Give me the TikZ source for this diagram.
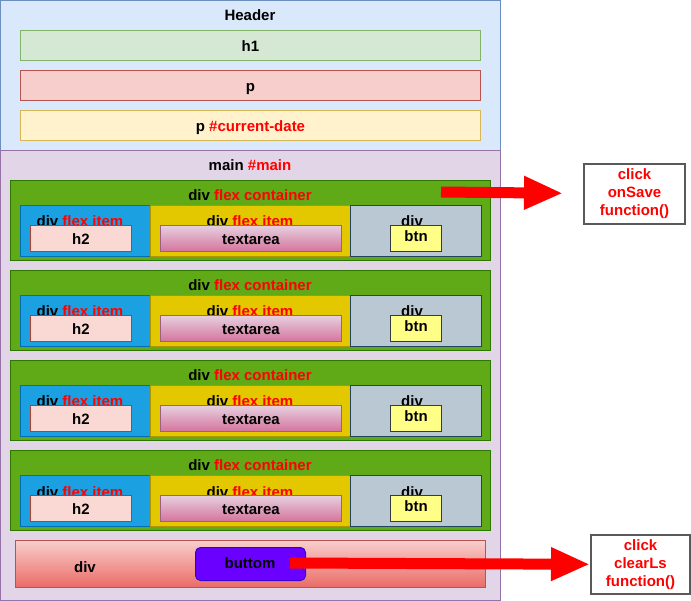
\documentclass[tikz,border=0pt]{standalone}
\usepackage{fontspec}
\setmainfont{Liberation Sans}
\usetikzlibrary{positioning,arrows.meta}
\definecolor{hdrfill}{HTML}{DAE8FC}\definecolor{hdrline}{HTML}{6C8EBF}
\definecolor{grnfill}{HTML}{D5E8D4}\definecolor{grnline}{HTML}{82B366}
\definecolor{pinkfill}{HTML}{F8CECC}\definecolor{pinkline}{HTML}{B85450}
\definecolor{yelfill}{HTML}{FFF2CC}\definecolor{yelline}{HTML}{D6B656}
\definecolor{mainfill}{HTML}{E1D5E7}\definecolor{mainline}{HTML}{9673A6}
\definecolor{flexfill}{HTML}{60A917}\definecolor{flexline}{HTML}{2D7600}
\definecolor{bluefill}{HTML}{1BA1E2}\definecolor{blueline}{HTML}{006EAF}
\definecolor{goldfill}{HTML}{E3C800}\definecolor{goldline}{HTML}{B09500}
\definecolor{grayfill}{HTML}{BAC8D3}\definecolor{grayline}{HTML}{23445D}
\definecolor{hfill}{HTML}{FAD9D5}\definecolor{hline}{HTML}{AE4132}
\definecolor{tatop}{HTML}{E6D0DE}\definecolor{tabot}{HTML}{D5739D}\definecolor{taline}{HTML}{996185}
\definecolor{btnfill}{HTML}{FFFF88}\definecolor{btnline}{HTML}{36393D}
\definecolor{divbot}{HTML}{EA6B66}
\definecolor{violet}{HTML}{6A00FF}\definecolor{violetline}{HTML}{3700CC}
\newcommand\redtxt[1]{\textcolor{red}{#1}}
\begin{document}
\begin{tikzpicture}[x=1pt,y=-1pt,
    every node/.style={font=\fontsize{15}{18}\selectfont\bfseries,text height=15pt,text depth=3pt},
    box/.style={draw,line width=1pt,inner sep=0pt,anchor=north west},
    clickbox/.style={box,draw=black!65,line width=2pt,fill=white,text=red,align=center,text height={},text depth={}},
    bigarrow/.style={draw=red,line width=11pt,-{Triangle[length=39pt,width=31pt]}}]
    \useasboundingbox (0,0) rectangle (691,601);
    % header
    \node[box,fill=hdrfill,draw=hdrline,minimum width=500,minimum height=150] (header) at (0,0) {};
    \node (hdrlbl) at (250,15) {Header};
    \node[box,fill=grnfill,draw=grnline,minimum width=460,minimum height=30] (hone) at (20,30) {h1};
    \node[box,fill=pinkfill,draw=pinkline,minimum width=460,minimum height=30] (ptag) at (20,70) {p};
    \node[box,fill=yelfill,draw=yelline,minimum width=460,minimum height=30] (pdate) at (20,110) {p \redtxt{\#current-date}};
    % main
    \node[box,fill=mainfill,draw=mainline,minimum width=500,minimum height=450] (main) at (0,150) {};
    \node (mainlbl) at (250,165) {main \redtxt{\#main}};
    \foreach \i/\y in {1/180,2/270,3/360,4/450}{
        \node[box,fill=flexfill,draw=flexline,minimum width=480,minimum height=80] (flex\i) at (10,\y) {};
        \node (flexlbl\i) at (250,\y+15) {div \redtxt{flex container}};
        \node[box,fill=bluefill,draw=blueline,minimum width=130,minimum height=51] (itema\i) at (20,\y+25) {};
        \node[box,fill=goldfill,draw=goldline,minimum width=200,minimum height=51] (itemb\i) at (150,\y+25) {};
        \node[box,fill=grayfill,draw=grayline,minimum width=131,minimum height=51] (itemc\i) at (350,\y+25) {};
        \node (lbla\i) at (80,\y+41) {div \redtxt{flex item}};
        \node (lblb\i) at (250,\y+41) {div \redtxt{flex item}};
        \node (lblc\i) at (412,\y+41) {div};
        \node[box,fill=hfill,draw=hline,minimum width=101,minimum height=26] (htwo\i) at (30,\y+45) {h2};
        \node[box,top color=tatop,bottom color=tabot,draw=taline,minimum width=181,minimum height=26] (txt\i) at (160,\y+45) {textarea};
        \node[box,fill=btnfill,draw=btnline,minimum width=51,minimum height=26,text height=12pt,text depth=6pt] (btn\i) at (390,\y+45) {btn};
    }
    % bottom div
    \node[box,top color=pinkfill,bottom color=divbot,draw=pinkline,minimum width=470,minimum height=47] (lastdiv) at (15,540) {};
    \node (divlbl) at (85,566) {div};
    \node[box,fill=violet,draw=violetline,rounded corners=5pt,minimum width=110,minimum height=33] (buttom) at (195,547) {};
    \node (buttomlbl) at (250,562) {buttom};
    % click boxes
    \node[clickbox,minimum width=101,minimum height=60] (onSave) at (583,163) {click\\onSave\\function()};
    \node[clickbox,minimum width=99,minimum height=59] (clearLs) at (590,534) {click\\clearLs\\function()};
    \coordinate (saveStart) at (441,192);
    \coordinate (clearStart) at (290,563);
    \draw[bigarrow,shorten >=20pt] (saveStart) -- (onSave);
    \draw[bigarrow] (clearStart) -- (clearLs);
\end{tikzpicture}
\end{document}
